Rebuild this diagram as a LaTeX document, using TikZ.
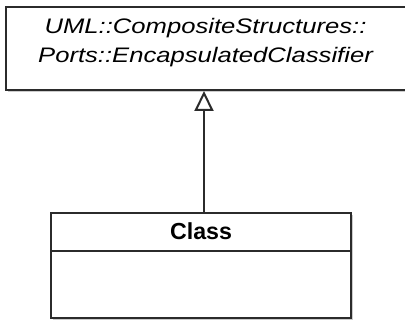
\documentclass[tikz,border=0pt]{standalone}
\usepackage{fontspec}
\setmainfont{Liberation Sans}
\newfontfamily\stretchedsans[FakeStretch=1.22]{Liberation Sans}
\usetikzlibrary{arrows.meta, calc, positioning, shadows}

\definecolor{umlline}{HTML}{2B2B2B}
\tikzset{
  umlbox/.style={draw=umlline, line width=1pt, fill=white,
    drop shadow={shadow xshift=1pt, shadow yshift=-1pt, fill=black!40}},
}

\begin{document}
\begin{tikzpicture}[x=0.5pt, y=0.5pt]
  \useasboundingbox (0,0) rectangle (405,320);
  \node[umlbox, minimum width=200.5pt, minimum height=41.5pt] (encap) at (206.5,271.5) {};
  \node[anchor=north, inner sep=0pt, align=center,
        font={\stretchedsans\itshape\fontsize{10.5}{14.5}\selectfont}] (encapname) at (205.5,302)
        {UML::CompositeStructures::\\Ports::EncapsulatedClassifier};
  \node[umlbox, minimum width=150pt, minimum height=52.5pt] (cls) at (201,54.5) {};
  \draw[umlline, line width=1pt] ($(cls.north west)+(0,-39)$) coordinate (divl) -- (divl -| cls.east);
  \node[font={\bfseries\fontsize{11.6}{13}\selectfont}] (clsname) at ($(cls.north)!0.5!(divl -| cls.north)$) {Class};
  \coordinate (gen) at ([xshift=1.5pt]cls.north);
  \draw[umlline, line width=1pt, -{Triangle[open, fill=white, width=9.5pt, length=10pt]}] (gen) -- (gen |- encap.south);
\end{tikzpicture}
\end{document}
